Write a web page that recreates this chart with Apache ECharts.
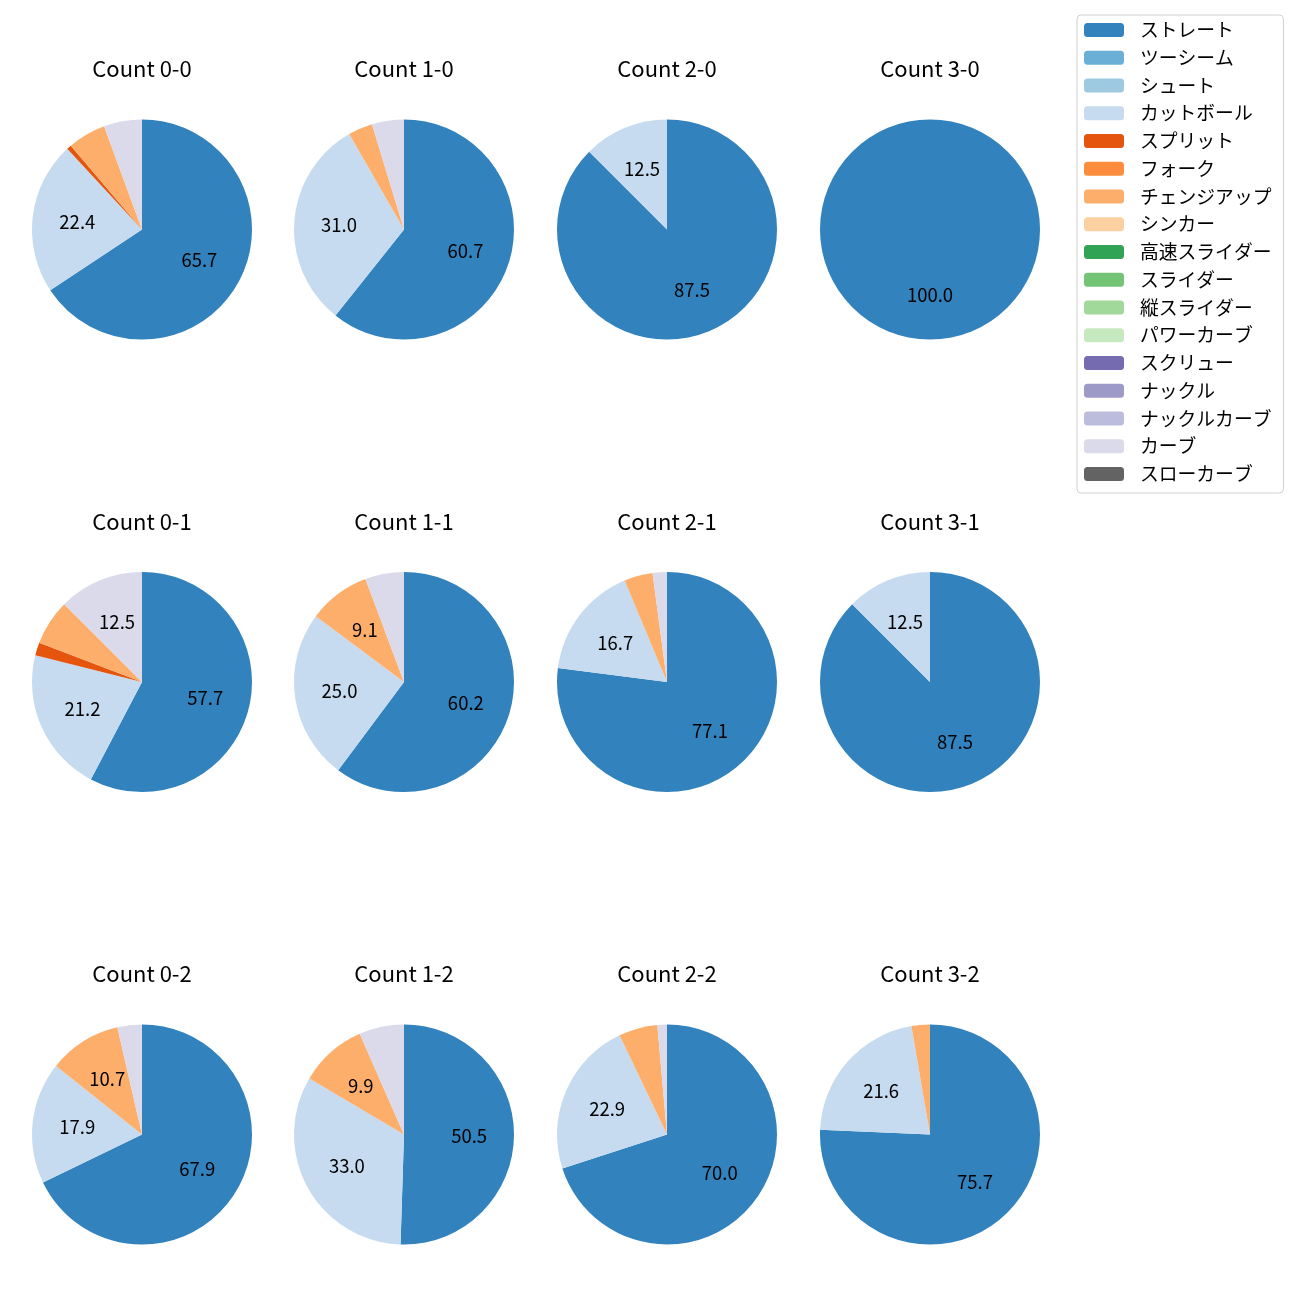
<!DOCTYPE html>
<html><head><meta charset="utf-8">
<script src="https://cdn.jsdelivr.net/npm/echarts@6/dist/echarts.min.js"></script>
<style>html,body{margin:0;padding:0;background:#fff}#c{width:1300px;height:1300px}</style>
</head><body><div id="c"></div>
<script>
const pitchTypes = ['ストレート','ツーシーム','シュート','カットボール','スプリット','フォーク','チェンジアップ','シンカー','高速スライダー','スライダー','縦スライダー','パワーカーブ','スクリュー','ナックル','ナックルカーブ','カーブ','スローカーブ'];
const pitchColors = ['#3182bd','#6baed6','#9ecae1','#c6dbef','#e6550d','#fd8d3c','#fdae6b','#fdd0a2','#31a354','#74c476','#a1d99b','#c7e9c0','#756bb1','#9e9ac8','#bcbddc','#dadaeb','#636363'];
const countTitles = ['Count 0-0','Count 1-0','Count 2-0','Count 3-0','Count 0-1','Count 1-1','Count 2-1','Count 3-1','Count 0-2','Count 1-2','Count 2-2','Count 3-2'];
// percentages, order = pitchTypes
const c00 = [65.7,0,0,22.4,0.7,0,5.6,0,0,0,0,0,0,0,0,5.6,0];
const c10 = [60.7,0,0,31.0,0,0,3.6,0,0,0,0,0,0,0,0,4.7,0];
const c20 = [87.5,0,0,12.5,0,0,0,0,0,0,0,0,0,0,0,0,0];
const c30 = [100.0,0,0,0,0,0,0,0,0,0,0,0,0,0,0,0,0];
const c01 = [57.7,0,0,21.2,1.9,0,6.7,0,0,0,0,0,0,0,0,12.5,0];
const c11 = [60.2,0,0,25.0,0,0,9.1,0,0,0,0,0,0,0,0,5.7,0];
const c21 = [77.1,0,0,16.7,0,0,4.2,0,0,0,0,0,0,0,0,2.1,0];
const c31 = [87.5,0,0,12.5,0,0,0,0,0,0,0,0,0,0,0,0,0];
const c02 = [67.9,0,0,17.9,0,0,10.7,0,0,0,0,0,0,0,0,3.6,0];
const c12 = [50.5,0,0,33.0,0,0,9.9,0,0,0,0,0,0,0,0,6.6,0];
const c22 = [70.0,0,0,22.9,0,0,5.7,0,0,0,0,0,0,0,0,1.4,0];
const c32 = [75.7,0,0,21.6,0,0,2.7,0,0,0,0,0,0,0,0,0,0];
const countData = [c00,c10,c20,c30,c01,c11,c21,c31,c02,c12,c22,c32];

const FONT = '"Noto Sans CJK JP", "Noto Sans", sans-serif';
const colX = [142, 404, 667, 930];
const rowY = [229.5, 682, 1134.5];
const titleY = [69, 522, 974];
const R = 110;

const chart = echarts.init(document.getElementById('c'), null, {renderer: 'canvas'});
const series = [];
const titles = [];
countData.forEach((vals, i) => {
  const cx = colX[i % 4], cy = rowY[Math.floor(i / 4)];
  titles.push({
    text: countTitles[i], left: cx, top: titleY[Math.floor(i / 4)], textAlign: 'center', textVerticalAlign: 'middle',
    padding: 0,
    textStyle: {fontFamily: FONT, fontSize: 22, fontWeight: 'normal', color: '#000'}
  });
  series.push({
    type: 'pie', center: [cx, cy], radius: [0, R], startAngle: 90, clockwise: true,
    avoidLabelOverlap: false, label: {show: false}, labelLine: {show: false}, emphasis: {disabled: true},
    animation: false,
    data: vals.map((v, k) => ({name: pitchTypes[k], value: v, itemStyle: {color: pitchColors[k]}}))
  });
  series.push({
    type: 'pie', center: [cx, cy], radius: [0, R * 1.13], startAngle: 90, clockwise: true, silent: true,
    avoidLabelOverlap: false, animation: false, labelLine: {show: false},
    itemStyle: {color: 'rgba(0,0,0,0)'}, emphasis: {disabled: true},
    label: {show: true, position: 'inside', fontFamily: FONT, fontSize: 18.5, color: '#000',
      formatter: p => p.value >= 8 ? p.value.toFixed(1) : ''},
    data: vals.map(v => ({value: v}))
  });
});

chart.setOption({
  animation: false,
  title: titles,
  legend: {
    orient: 'vertical', left: 1077, top: 15, data: pitchTypes,
    itemWidth: 40, itemHeight: 14, itemGap: 7.75,
    padding: [5, 12, 9, 7],
    borderColor: '#d0d0d0', borderWidth: 1, borderRadius: 4,
    textStyle: {fontFamily: FONT, fontSize: 18.8, lineHeight: 20, color: '#000', padding: [0, 0, 0, 11]},
    selectedMode: false
  },
  series: series
});
</script></body></html>
